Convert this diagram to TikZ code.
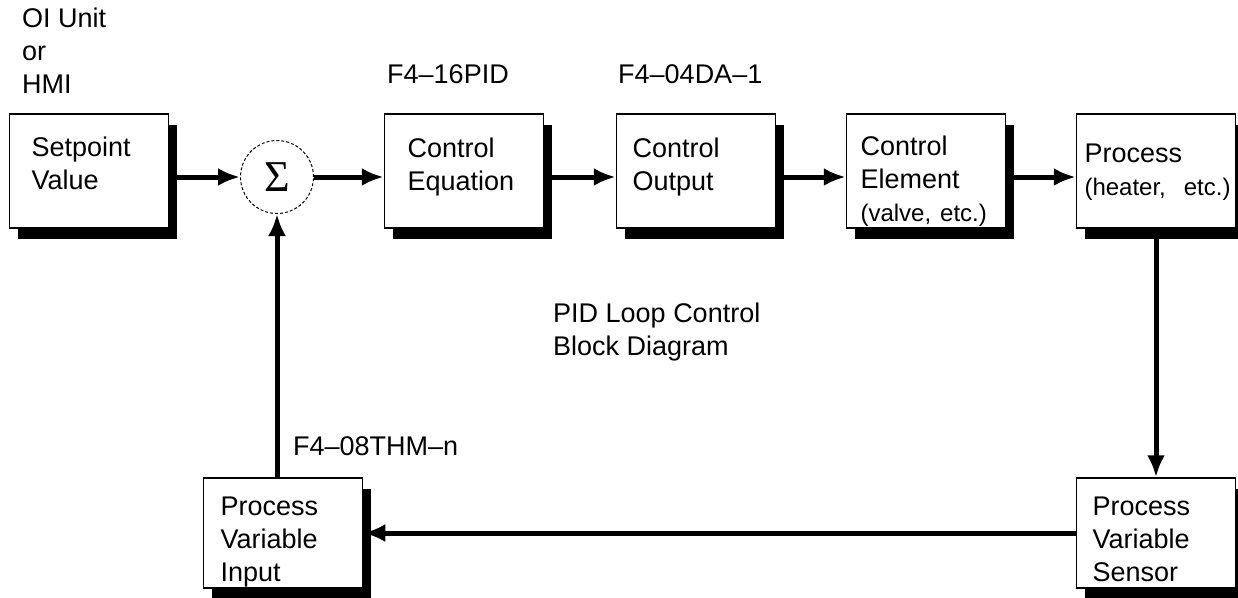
\documentclass[tikz,border=0pt]{standalone}
\usepackage{fontspec}
\setmainfont{Liberation Sans}
\newfontfamily\sigmafont{Liberation Serif}
\usetikzlibrary{arrows.meta,shadows}

\tikzset{
  block/.style={draw,line width=1.5pt,fill=white,
    drop shadow={shadow xshift=8pt,shadow yshift=-11pt,fill=black,opacity=1},
    minimum height=114pt,inner ysep=0pt,inner xsep=#1,text width=159pt-2*#1,align=left,
    text height=42pt,text depth=72pt},
  block/.default=20pt,
  low block/.style={minimum height=110pt,text height=37pt,text depth=73pt},
  summer/.style={circle,draw,densely dashed,line width=1pt,fill=white,
    minimum size=73pt,inner sep=0pt,font=\sigmafont\fontsize{44}{44}\selectfont},
  flow/.style={line width=5pt,-{Latex[length=22pt,width=18pt]}},
}
\newcommand{\smalltxt}{\fontsize{24}{30}\selectfont}

\begin{document}
\begin{tikzpicture}[x=1pt,y=-1pt,font=\fontsize{27}{33}\selectfont]
  \useasboundingbox (0,0) rectangle (1238,597);
  % top row
  \node[block=22pt] (sp) at (89,171) {Setpoint\\Value};
  \node[summer] (sum) at (277,177) {Σ};
  \node[block=23pt,text height=43pt,text depth=71pt] (ce) at (464,171) {Control\\Equation};
  \node[block=16pt,text height=43pt,text depth=71pt] (co) at (696,171) {Control\\Output};
  \node[block=14pt,text height=41pt,text depth=73pt] (cel) at (926,171) {Control\\Element\\{\smalltxt(valve, etc.)}};
  \node[block=8pt,text height=48pt,text depth=66pt] (pr) at (1156,171) {Process\\\mbox{\smalltxt(heater,\ \ etc.)}};
  % bottom row
  \node[block=16pt,low block] (pvs) at (1156,533) {Process\\Variable\\Sensor};
  \node[block=17pt,low block] (pvi) at (283,533) {Process\\Variable\\Input};
  % labels
  \node[anchor=north west,align=left,inner sep=0pt] (oi) at (22,8) {OI Unit\\or\\HMI};
  \node[anchor=base west,inner sep=0pt] (pidmod) at (387,83) {F4–16PID};
  \node[anchor=base west,inner sep=0pt] (damod) at (618,83) {F4–04DA–1};
  \node[anchor=north west,align=left,inner sep=0pt] (title) at (553,303) {PID Loop Control\\Block Diagram};
  \node[anchor=base west,inner sep=0pt] (thmmod) at (293,455) {F4–08THM–n};
  % signal flow
  \draw[flow] (sp.east |- sum.west) -- (sum.west);
  \draw[flow] (sum.east) -- (ce.west |- sum.east);
  \draw[flow] (ce.east |- sum.east) -- (co.west |- sum.east);
  \draw[flow] (co.east |- sum.east) -- (cel.west |- sum.east);
  \draw[flow] (cel.east |- sum.east) -- (pr.west |- sum.east);
  \draw[flow] (pr.south) -- (pvs.north);
  \draw[flow] (pvs.west) -- (pvi.east |- pvs.west);
  \draw[flow] (pvi.north -| sum.south) -- (sum.south);
\end{tikzpicture}
\end{document}
